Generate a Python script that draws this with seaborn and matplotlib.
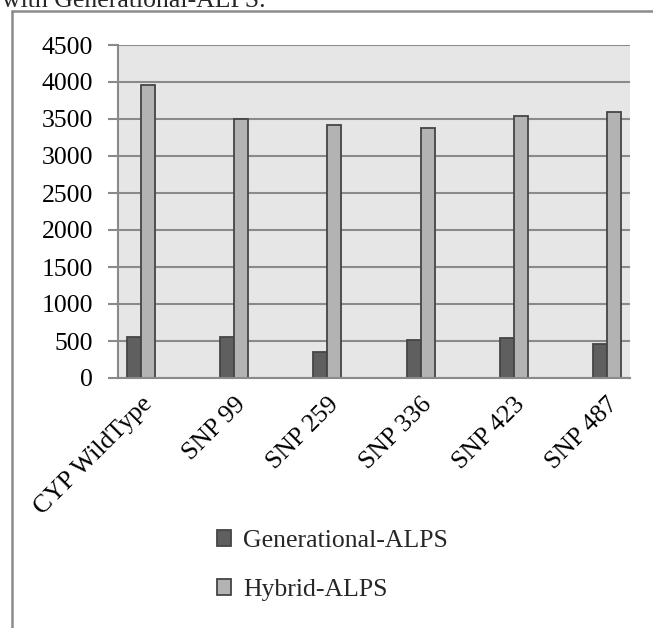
import matplotlib
matplotlib.use("Agg")
import matplotlib.pyplot as plt
from matplotlib.lines import Line2D
import seaborn as sns
import pandas as pd

categories = ["CYP WildType", "SNP 99", "SNP 259", "SNP 336", "SNP 423", "SNP 487"]
generational = [550, 550, 350, 515, 545, 455]
hybrid = [3960, 3500, 3420, 3380, 3545, 3590]
series_names = ["Generational-ALPS", "Hybrid-ALPS"]
yticks = [0, 500, 1000, 1500, 2000, 2500, 3000, 3500, 4000, 4500]

# category order with empty slots between the labelled groups
order = []
for i, c in enumerate(categories):
    order.append(c)
    if i < len(categories) - 1:
        order.append(f"_gap{i}")
labels = [c if not c.startswith("_gap") else "" for c in order]

df = pd.DataFrame({
    "category": categories * 2,
    "series": [series_names[0]] * len(categories) + [series_names[1]] * len(categories),
    "value": generational + hybrid,
})

sns.set_theme(style="white")
plt.rcParams["font.family"] = ["Liberation Serif", "DejaVu Serif"]

fig = plt.figure(figsize=(6.53, 6.28), dpi=100)
ax = fig.add_axes([118 / 653, 1 - 378 / 628, (630 - 118) / 653, (378 - 45) / 628])
ax.set_facecolor("#e6e6e6")

sns.barplot(data=df, x="category", y="value", hue="series", order=order,
            hue_order=series_names, palette=["#5f5f5f", "#b3b3b3"],
            width=0.6, edgecolor="#454545", linewidth=1.3, ax=ax, legend=True)

grid_c = "#8a8a8a"
ax.set_ylim(0, 4500)
ax.set_xlim(-0.5, len(order) - 0.5)
ax.set_yticks(yticks)
ax.set_yticklabels([str(v) for v in yticks], fontsize=18.5, color="black")
ax.yaxis.grid(True, color=grid_c, linewidth=1.5)
ax.set_axisbelow(True)
ax.set_xticks(range(len(order)))
ax.set_xticklabels(labels, rotation=45, ha="right", rotation_mode="anchor",
                   fontsize=18.5, color="black")
ax.set_xticks([k - 0.5 for k in range(len(order) + 1)], minor=True)
ax.tick_params(axis="x", which="major", length=0, pad=11)
ax.tick_params(axis="x", which="minor", length=7, width=1.5, color=grid_c, direction="out")
ax.tick_params(axis="y", which="major", length=7, width=1.5, color=grid_c, direction="out", pad=11, left=True)
ax.set_xlabel("")
ax.set_ylabel("")
for s in ["top", "right"]:
    ax.spines[s].set_visible(False)
for s in ["left", "bottom"]:
    ax.spines[s].set_color(grid_c)
    ax.spines[s].set_linewidth(1.5)

handles, lbls = ax.get_legend_handles_labels()
ax.get_legend().remove()
fig.legend(handles, lbls, loc="upper left", bbox_to_anchor=(194 / 653, 1 - 507 / 628),
           frameon=False, fontsize=18.5, handlelength=0.55, handleheight=0.55,
           handletextpad=0.45, labelspacing=1.05)

# outer frame (left and top edges)
fx = 12 / 653
fy = 1 - 11 / 628
fig.add_artist(Line2D([fx, fx], [0, fy], transform=fig.transFigure, color="#8c8c8c", lw=1.8))
fig.add_artist(Line2D([fx, 1], [fy, fy], transform=fig.transFigure, color="#8c8c8c", lw=1.8))

fig.text(0.003, 1 - 7 / 628, "with Generational-ALPS.", fontsize=18.5, va="baseline", ha="left")

fig.savefig("out.png", dpi=100)
